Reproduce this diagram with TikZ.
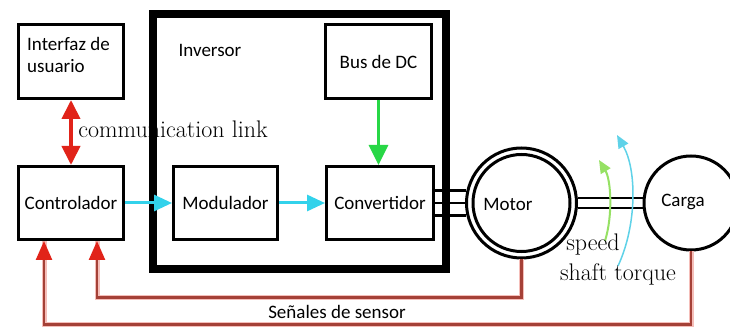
\documentclass[tikz,border=0pt]{standalone}
\usepackage{fontspec}
\newfontfamily\carlito{Carlito}
\usetikzlibrary{arrows.meta,calc}
\definecolor{cyanA}{RGB}{50,210,235}
\definecolor{greenA}{RGB}{40,215,70}
\definecolor{redA}{RGB}{225,35,25}
\definecolor{sensorC}{RGB}{165,65,55}
\definecolor{glowC}{RGB}{245,190,185}
\definecolor{speedC}{RGB}{150,225,100}
\definecolor{torqueC}{RGB}{95,210,232}
\begin{document}
\begin{tikzpicture}[x=1pt,y=-1pt,
  box/.style={draw=black,line width=3pt,rectangle,inner sep=0pt,
    font=\carlito\fontsize{19}{22}\selectfont},
  txt/.style={inner sep=0pt,font=\carlito\fontsize{19}{22}\selectfont},
  cmtxt/.style={inner sep=0pt,font=\fontsize{24}{26}\selectfont},
  cyanarrow/.style={draw=cyanA,line width=3pt,-{Triangle[length=18pt,width=16pt]}},
  greenarrow/.style={draw=greenA,line width=3pt,-{Triangle[length=20pt,width=19pt]}},
  redarrow/.style={draw=redA,line width=4pt,{Triangle[length=19pt,width=18pt]}-{Triangle[length=19pt,width=18pt]}},
  sensor/.style={draw=sensorC,line width=2.5pt,
    preaction={draw=glowC,line width=5pt,arrows=-},
    -{Triangle[length=19pt,width=16pt,color=redA]}},
  wire/.style={draw=black,line width=2.5pt},
  circ/.style={draw=black,line width=3pt,circle,inner sep=0pt}]
\useasboundingbox (0,0) rectangle (730,328);
\fill[white] (0,0) rectangle (730,328);
\clip (0,0) rectangle (730,328);

% communication link label (lies under the inverter frame)
\node[cmtxt,anchor=base] (comm) at (173,138) {communication link};

% inverter frame
\node[draw=black,line width=8pt,rectangle,inner sep=0pt,
  minimum width=293pt,minimum height=255pt] (inv) at (299.5,141.5) {};
\node[txt] (invtxt) at (210,50) {Inversor};

% boxes
\node[box,minimum width=105pt,minimum height=74pt] (ui) at (71,61.5) {};
\node[txt,anchor=west,align=left] (uitxt) at (27,55) {Interfaz de\\usuario};
\node[box,minimum width=105pt,minimum height=73pt] (ctrl) at (71,203) {Controlador};
\node[box,minimum width=104pt,minimum height=73pt] (mod) at (225.5,203) {Modulador};
\node[box,minimum width=107pt,minimum height=73pt] (conv) at (380,203) {Convertidor};
\node[box,minimum width=106pt,minimum height=74pt] (bus) at (378.5,61.5) {Bus de DC};

% motor and load
\node[circ,minimum size=110pt] (motor) at (521.5,203) {};
\draw[black,line width=3pt] (motor.center) circle[radius=48.5pt];
\node[txt] (motortxt) at (508,204) {Motor};
\node[circ,minimum size=94pt] (carga) at (691,203) {};
\node[txt] (cargatxt) at (683,202) {Carga};

% three-phase wires
\draw[wire] (motor.167) -- (motor.167 -| conv.east);
\draw[wire] (motor.west) -- (motor.west -| conv.east);
\draw[wire] (motor.193) -- (motor.193 -| conv.east);

% shaft
\draw[wire] (motor.5) -- (motor.5 -| carga.west);
\draw[wire] (motor.-5) -- (motor.-5 -| carga.west);

% signal arrows
\draw[redarrow] (ui) -- (ctrl);
\draw[cyanarrow] (ctrl) -- (mod);
\draw[cyanarrow] (mod) -- (conv);
\draw[greenarrow] (bus.south) -- (bus.south |- conv.north);

% sensor feedback
\draw[sensor] (motor.south) -- ++(0,38) -| ([xshift=26pt]ctrl.south);
\draw[sensor] (carga.south) -- ++(0,73) -| ([xshift=-27pt]ctrl.south);
\node[txt] (sens) at (337,312) {Señales de sensor};

% speed and torque
\coordinate (sp1) at (605,241);
\coordinate (sp2) at (599,160);
\coordinate (tq1) at (618,266);
\coordinate (tq2) at (617,135);
\draw[draw=speedC,line width=2pt,-{Triangle[length=13pt,width=11pt]}]
  (sp1) .. controls (613,215) and (611,180) .. (sp2);
\draw[draw=torqueC,line width=1.5pt,-{Triangle[length=13pt,width=11pt]}]
  (tq1) .. controls (637,225) and (637,170) .. (tq2);
\node[cmtxt,anchor=base] (speed) at (593,251) {speed};
\node[cmtxt,anchor=base] (torque) at (618,281) {shaft torque};
\end{tikzpicture}
\end{document}
